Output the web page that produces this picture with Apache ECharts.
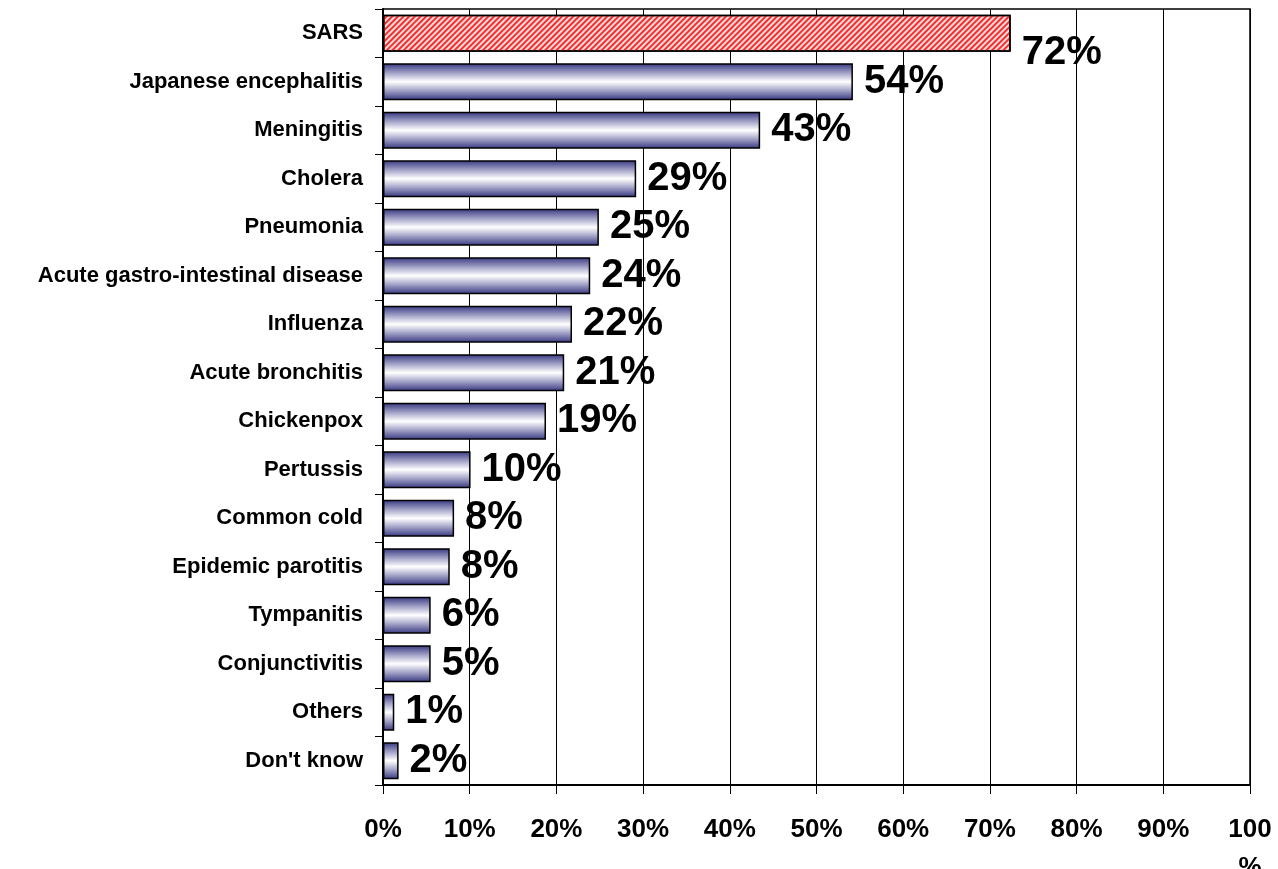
<!DOCTYPE html>
<html>
<head>
<meta charset="utf-8">
<script src="https://cdn.jsdelivr.net/npm/echarts@6/dist/echarts.min.js"></script>
<style>
html,body{margin:0;padding:0;background:#fff;}
#chart{width:1278px;height:869px;}
</style>
</head>
<body>
<div id="chart"></div>
<script>
// Categories, top to bottom
const categories = [
  "SARS",
  "Japanese encephalitis",
  "Meningitis",
  "Cholera",
  "Pneumonia",
  "Acute gastro-intestinal disease",
  "Influenza",
  "Acute bronchitis",
  "Chickenpox",
  "Pertussis",
  "Common cold",
  "Epidemic parotitis",
  "Tympanitis",
  "Conjunctivitis",
  "Others",
  "Don't know"
];
// Bar lengths (%)
const values = [72.4, 54.2, 43.5, 29.2, 24.9, 23.9, 21.8, 20.9, 18.8, 10.1, 8.2, 7.7, 5.5, 5.5, 1.3, 1.8];
// Printed value labels
const valueLabels = ["72%", "54%", "43%", "29%", "25%", "24%", "22%", "21%", "19%", "10%", "8%", "8%", "6%", "5%", "1%", "2%"];
// X axis ticks
const xTicks = [0, 10, 20, 30, 40, 50, 60, 70, 80, 90, 100];

const navyGrad = {
  type: 'linear', x: 0, y: 0, x2: 0, y2: 1,
  colorStops: [
    {offset: 0, color: '#35357f'},
    {offset: 0.28, color: '#a9a9cc'},
    {offset: 0.5, color: '#ffffff'},
    {offset: 0.72, color: '#a9a9cc'},
    {offset: 1, color: '#35357f'}
  ]
};

const seriesData = values.map((v, i) => {
  const item = {value: v};
  if (i === 0) {
    item.itemStyle = {
      color: '#fcdada',
      decal: {
        symbol: 'rect',
        symbolSize: 1,
        color: '#f03030',
        dashArrayX: [1, 0],
        dashArrayY: [1.3, 1.7],
        rotation: -Math.PI / 4
      }
    };
    item.label = {offset: [0, 20]};
  }
  return item;
});

const chart = echarts.init(document.getElementById('chart'));
chart.setOption({
  animation: false,
  backgroundColor: '#ffffff',
  grid: {
    left: 383, right: 28, top: 9, bottom: 84,
    containLabel: false,
    outerBoundsMode: 'none',
    show: true, borderColor: '#000', borderWidth: 1.5, backgroundColor: 'transparent'
  },
  xAxis: {
    type: 'value',
    min: xTicks[0], max: xTicks[xTicks.length - 1], interval: 10,
    axisLine: {show: true, lineStyle: {color: '#000', width: 2}},
    axisTick: {show: true, length: 9, lineStyle: {color: '#000', width: 1}},
    splitLine: {show: true, lineStyle: {color: '#000', width: 1}},
    axisLabel: {
      margin: 26,
      lineHeight: 38,
      color: '#000',
      fontFamily: 'Liberation Sans',
      fontWeight: 'bold',
      fontSize: 26,
      formatter: v => v === 100 ? '100\n%' : v + '%'
    }
  },
  yAxis: {
    type: 'category',
    data: categories,
    inverse: true,
    axisLine: {show: true, lineStyle: {color: '#000', width: 2}},
    axisTick: {show: true, length: 8, lineStyle: {color: '#000', width: 1}},
    splitLine: {show: false},
    axisLabel: {
      margin: 20,
      color: '#000',
      fontFamily: 'Liberation Sans',
      fontWeight: 'bold',
      fontSize: 22
    }
  },
  series: [{
    type: 'bar',
    data: seriesData,
    barWidth: 37,
    itemStyle: {color: navyGrad, borderColor: '#000', borderWidth: 1.5},
    label: {
      show: true,
      position: 'right',
      distance: 11,
      color: '#000',
      fontFamily: 'Liberation Sans',
      fontWeight: 'bold',
      fontSize: 40,
      formatter: p => valueLabels[p.dataIndex]
    }
  }]
});
</script>
</body>
</html>
